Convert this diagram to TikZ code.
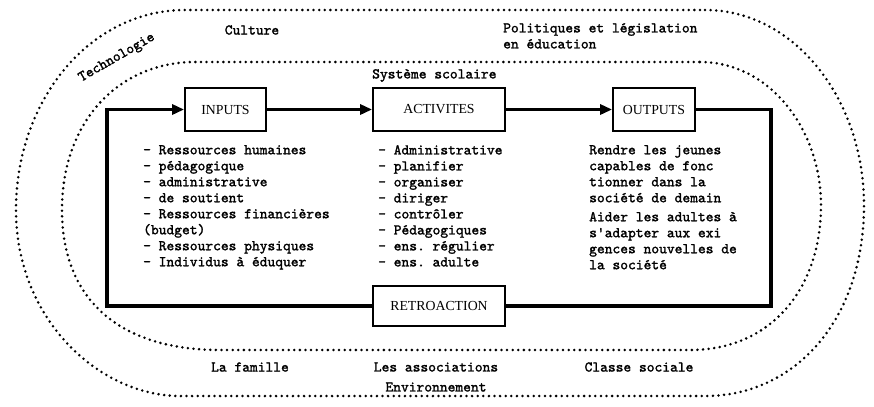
\documentclass[tikz,border=0pt]{standalone}
\usepackage{fontspec}
\setmainfont{Liberation Serif}
\setmonofont{lmmono10-regular.otf}[FakeBold=1.6]
\usetikzlibrary{arrows.meta}
\newcommand\txfont{\ttfamily\fontsize{14.8bp}{16bp}\selectfont}
\tikzset{
  envline/.style={line width=2.8bp, line cap=round, dash pattern=on 0pt off 5.6bp},
  box/.style={draw, line width=1.8bp, inner sep=0pt, font=\fontsize{13.8bp}{15bp}\selectfont},
  conn/.style={line width=3.3bp},
  arr/.style={conn, -{Triangle[length=12bp,width=10bp]}},
  txt/.style={font=\txfont, align=left, inner sep=0pt},
}
\begin{document}
\begin{tikzpicture}[x=1bp, y=-1bp]
\useasboundingbox (0,0) rectangle (874,406);
% environment ovals
\draw[envline] (705,10) .. controls (795,10) and (864,100) .. (864,205)
  .. controls (864,320) and (795,396) .. (705,396) -- (180,396)
  .. controls (100,396) and (16,320) .. (16,210)
  .. controls (16,100) and (90,10) .. (185,10) -- cycle;
\draw[envline] (700,62) .. controls (770,62) and (821,130) .. (821,205)
  .. controls (821,290) and (770,350) .. (690,350) -- (220,350)
  .. controls (120,350) and (62,300) .. (62,210)
  .. controls (62,120) and (120,62) .. (195,62) -- cycle;
% labels of the environment
\node[txt, rotate=30] (tech) at (117,58) {Technologie};
\node[txt] (cult) at (252,30) {Culture};
\node[txt, anchor=north west] (pol) at (503,23) {Politiques et législation\\en éducation};
\node[txt, anchor=north west] (sys) at (372,69) {Système scolaire};
\node[txt] (fam) at (250,367) {La famille};
\node[txt, align=center] (assoc) at (436,377) {Les associations\\[4bp]Environnement};
\node[txt] (classe) at (639,367) {Classe sociale};
% boxes
\node[box, minimum width=81bp, minimum height=43bp] (in) at (225.5,109.5) {INPUTS};
\node[box, minimum width=132bp, minimum height=43bp] (act) at (439,109.5) {ACTIVITES};
\node[box, minimum width=82bp, minimum height=43bp] (out) at (654,109.5) {OUTPUTS};
\node[box, minimum width=132bp, minimum height=40bp] (ret) at (439,306) {RETROACTION};
% columns of text
\node[txt, anchor=north west] (inl) at (143,145) {- Ressources humaines\\- pédagogique\\- administrative\\- de soutient\\- Ressources financières\\(budget)\\- Ressources physiques\\- Individus à éduquer};
\node[txt, anchor=north west] (actl) at (378,145) {- Administrative\\- planifier\\- organiser\\- diriger\\- contrôler\\- Pédagogiques\\- ens. régulier\\- ens. adulte};
\node[txt, anchor=north west] (outl) at (589,145) {Rendre les jeunes\\capables de fonc\\tionner dans la\\société de demain\\[3bp]Aider les adultes à\\s'adapter aux exi\\gences nouvelles de\\la société};
% connectors
\coordinate (loopL) at (107,109.5);
\coordinate (loopR) at (771,306);
\draw[arr] (in) -- (act);
\draw[arr] (act) -- (out);
\draw[conn] (out.east) -| (loopR) -- (ret.east);
\draw[arr] (ret.west) -| (loopL) -- (in.west);
\end{tikzpicture}
\end{document}
